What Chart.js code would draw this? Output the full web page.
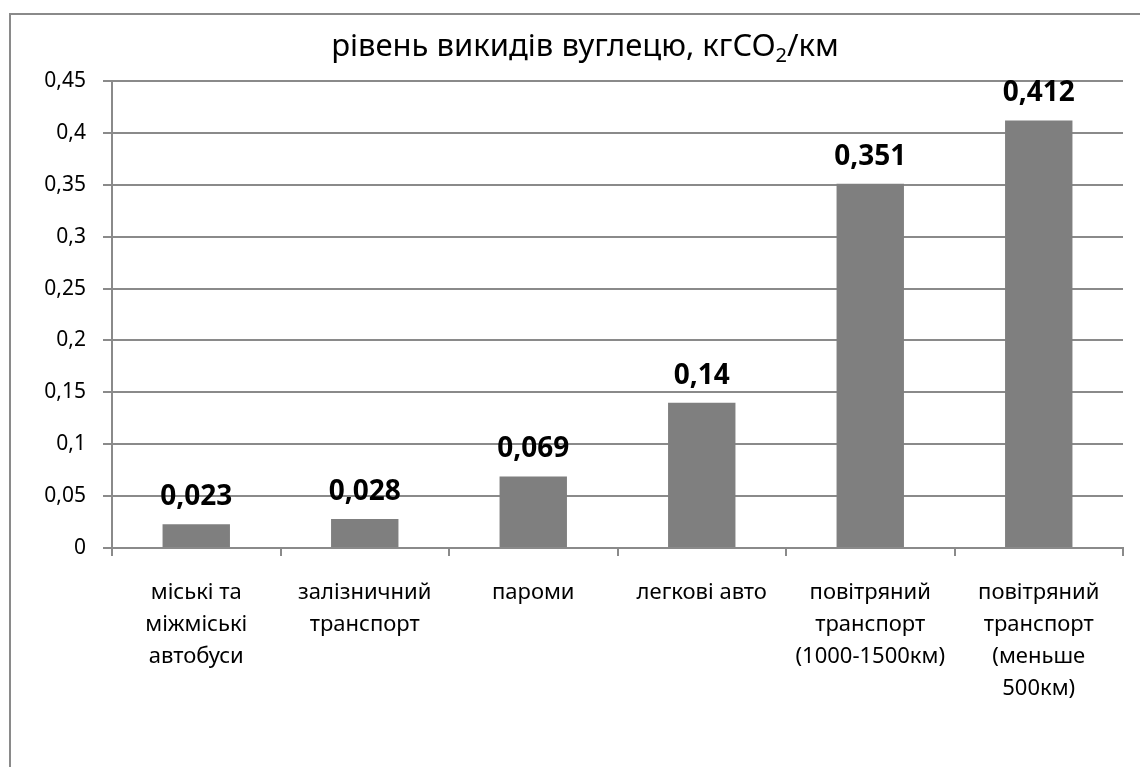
<!DOCTYPE html>
<html>
<head>
<meta charset="utf-8">
<script src="https://cdn.jsdelivr.net/npm/chart.js"></script>
<style>
  body { margin: 0; padding: 0; background: #fff; }
  #wrap { width: 1140px; height: 767px; position: relative; }
</style>
</head>
<body>
<div id="wrap"><canvas id="co2Chart"></canvas></div>
<script>
const categories = [
  ['міські та', 'міжміські', 'автобуси'],
  ['залізничний', 'транспорт'],
  ['пароми'],
  ['легкові авто'],
  ['повітряний', 'транспорт', '(1000-1500км)'],
  ['повітряний', 'транспорт', '(меньше', '500км)']
];
const emissions = [0.023, 0.028, 0.069, 0.14, 0.351, 0.412];
const titleParts = ['рівень викидів вуглецю, кгCO', '2', '/км'];

const FONT = "'Noto Sans', 'DejaVu Sans', sans-serif";
const GRID = '#8a8a8a';

const fmt = v => String(Math.round(v * 1000) / 1000).replace('.', ',');

// frame + title (with subscript)
const frameTitle = {
  id: 'frameTitle',
  beforeDraw(chart) {
    const ctx = chart.ctx;
    ctx.save();
    ctx.strokeStyle = GRID;
    ctx.lineWidth = 2;
    ctx.strokeRect(10, 14, 1200, 800);
    ctx.restore();
  },
  afterDraw(chart) {
    const ctx = chart.ctx;
    ctx.save();
    ctx.fillStyle = '#000';
    ctx.textBaseline = 'alphabetic';
    const big = '31px ' + FONT, small = '20px ' + FONT;
    ctx.font = big;
    const w1 = ctx.measureText(titleParts[0]).width;
    const w3 = ctx.measureText(titleParts[2]).width;
    ctx.font = small;
    const w2 = ctx.measureText(titleParts[1]).width;
    let x = 585 - (w1 + w2 + w3) / 2;
    const y = 56;
    ctx.font = big;
    ctx.fillText(titleParts[0], x, y);
    x += w1;
    ctx.font = small;
    ctx.fillText(titleParts[1], x, y + 6);
    x += w2;
    ctx.font = big;
    ctx.fillText(titleParts[2], x, y);
    ctx.restore();
  }
};

// value labels above bars
const barLabels = {
  id: 'barLabels',
  afterDatasetsDraw(chart) {
    const ctx = chart.ctx;
    const meta = chart.getDatasetMeta(0);
    ctx.save();
    ctx.font = 'bold 28px ' + FONT;
    ctx.fillStyle = '#000';
    ctx.textAlign = 'center';
    ctx.textBaseline = 'alphabetic';
    meta.data.forEach((bar, i) => {
      ctx.fillText(fmt(emissions[i]), bar.x, bar.y - 19);
    });
    ctx.restore();
  }
};

new Chart(document.getElementById('co2Chart'), {
  type: 'bar',
  data: {
    labels: categories,
    datasets: [{
      data: emissions,
      backgroundColor: '#7f7f7f',
      borderWidth: 0,
      categoryPercentage: 1,
      barPercentage: 0.4
    }]
  },
  options: {
    responsive: true,
    maintainAspectRatio: false,
    animation: false,
    layout: { padding: { top: 81, right: 17, left: 0, bottom: 0 } },
    plugins: {
      legend: { display: false },
      title: { display: false },
      tooltip: { enabled: false }
    },
    scales: {
      x: {
        grid: {
          display: true,
          drawOnChartArea: false,
          drawTicks: true,
          tickLength: 8,
          color: GRID,
          lineWidth: 2
        },
        border: { display: true, color: GRID, width: 2 },
        ticks: {
          color: '#000',
          font: { family: FONT, size: 22, lineHeight: 1.45 },
          padding: 21,
          maxRotation: 0,
          autoSkip: false
        },
        afterFit(scale) { scale.height = 219; }
      },
      y: {
        min: 0,
        max: 0.45,
        ticks: {
          stepSize: 0.05,
          color: '#000',
          font: { family: FONT, size: 21 },
          padding: 17,
          callback: v => fmt(v)
        },
        grid: { color: GRID, lineWidth: 2, tickLength: 9 },
        border: { display: true, color: GRID, width: 2 },
        afterFit(scale) { scale.width = 112; }
      }
    }
  },
  plugins: [frameTitle, barLabels]
});
</script>
</body>
</html>
